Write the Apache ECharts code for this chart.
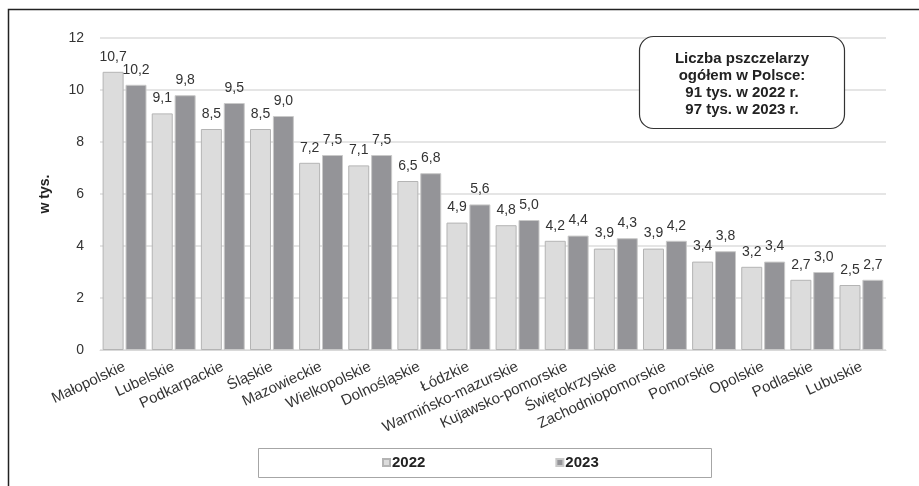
<!DOCTYPE html>
<html>
<head>
<meta charset="utf-8">
<script src="https://cdn.jsdelivr.net/npm/echarts@6/dist/echarts.min.js"></script>
<style>
  html, body { margin: 0; padding: 0; background: #fff; }
  #chart { width: 919px; height: 486px; }
</style>
</head>
<body>
<div id="chart"></div>
<script>
// Beekeepers per voivodeship, thousands
const regions = ['Małopolskie', 'Lubelskie', 'Podkarpackie', 'Śląskie', 'Mazowieckie', 'Wielkopolskie',
  'Dolnośląskie', 'Łódzkie', 'Warmińsko-mazurskie', 'Kujawsko-pomorskie', 'Świętokrzyskie',
  'Zachodniopomorskie', 'Pomorskie', 'Opolskie', 'Podlaskie', 'Lubuskie'];
const values2022 = [10.7, 9.1, 8.5, 8.5, 7.2, 7.1, 6.5, 4.9, 4.8, 4.2, 3.9, 3.9, 3.4, 3.2, 2.7, 2.5];
const values2023 = [10.2, 9.8, 9.5, 9.0, 7.5, 7.5, 6.8, 5.6, 5.0, 4.4, 4.3, 4.2, 3.8, 3.4, 3.0, 2.7];
const seriesNames = ['2022', '2023'];
const yTicks = { min: 0, max: 12, interval: 2 };
const noteLines = ['Liczba pszczelarzy', 'ogółem w Polsce:', '91 tys. w 2022 r.', '97 tys. w 2023 r.'];

const FONT = '"Liberation Sans", Arial, sans-serif';
const fmt = v => v.toFixed(1).replace('.', ',');

const chart = echarts.init(document.getElementById('chart'), null, { renderer: 'canvas' });

const labelStyle = {
  show: true,
  position: 'top',
  distance: 8,
  fontFamily: FONT,
  fontSize: 14,
  color: '#333',
  formatter: p => fmt(p.value)
};

chart.setOption({
  backgroundColor: '#fff',
  animation: false,
  grid: { left: 100, right: 33, top: 38, bottom: 136, containLabel: false },
  legend: {
    data: seriesNames,
    left: 382,
    top: 455,
    padding: 0,
    itemWidth: 7,
    itemHeight: 7,
    itemGap: 130,
    icon: 'rect',
    textStyle: { fontFamily: FONT, fontSize: 15, fontWeight: 'bold', color: '#222', padding: [0, 0, 0, -3] }
  },
  xAxis: {
    type: 'category',
    data: regions,
    axisLine: { lineStyle: { color: '#d9d9d9', width: 1 } },
    axisTick: { show: false },
    axisLabel: { rotate: 25, fontFamily: FONT, fontSize: 15, color: '#333', margin: 16, interval: 0 }
  },
  yAxis: {
    type: 'value',
    min: yTicks.min,
    max: yTicks.max,
    interval: yTicks.interval,
    name: 'w tys.',
    nameLocation: 'middle',
    nameGap: 48,
    nameTextStyle: { fontFamily: FONT, fontSize: 14, fontWeight: 'bold', color: '#222' },
    axisLine: { show: false },
    axisTick: { show: false },
    axisLabel: { fontFamily: FONT, fontSize: 14, color: '#333', margin: 16 },
    splitLine: { lineStyle: { color: '#dcdcdc', width: 1.5 } }
  },
  series: [
    {
      name: seriesNames[0],
      type: 'bar',
      data: values2022,
      barWidth: 21,
      barGap: '9%',
      itemStyle: { color: '#dcdcdc', borderColor: '#b4b4b4', borderWidth: 1 },
      label: labelStyle
    },
    {
      name: seriesNames[1],
      type: 'bar',
      data: values2023,
      barWidth: 21,
      barGap: '9%',
      itemStyle: { color: '#949498', borderColor: '#c9c9c9', borderWidth: 1 },
      label: labelStyle
    }
  ],
  graphic: [
    // outer frame (extends past the right and bottom edges)
    { type: 'rect', silent: true, z: 100,
      shape: { x: 8.5, y: 9.5, width: 1000, height: 1000 },
      style: { fill: 'none', stroke: '#222', lineWidth: 1.5 } },
    // legend box
    { type: 'rect', silent: true, z: 1,
      shape: { x: 258.5, y: 448.5, width: 453, height: 29 },
      style: { fill: 'none', stroke: '#a6a6a6', lineWidth: 1 } },
    // summary note
    { type: 'rect', silent: true, z: 50,
      shape: { x: 639.5, y: 36.5, width: 205, height: 92, r: 14 },
      style: { fill: '#fff', stroke: '#333', lineWidth: 1.2 } },
    { type: 'text', silent: true, z: 51,
      x: 742, y: 50,
      style: {
        text: noteLines.join('\n'),
        align: 'center',
        verticalAlign: 'top',
        fontFamily: FONT, fontSize: 15, fontWeight: 'bold', lineHeight: 17,
        fill: '#222'
      } }
  ]
});
</script>
</body>
</html>
